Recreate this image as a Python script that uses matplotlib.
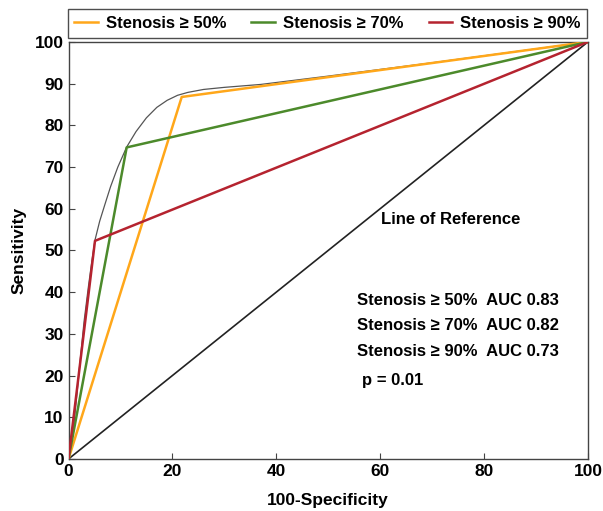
import matplotlib
matplotlib.use("Agg")
import matplotlib.pyplot as plt

plt.rcParams['font.family'] = ['Liberation Sans', 'DejaVu Sans']
plt.rcParams['font.weight'] = 'bold'

series_names = ["Stenosis \u2265 50%", "Stenosis \u2265 70%", "Stenosis \u2265 90%"]
series_colors = ["#FFA71A", "#4C8A2B", "#B5232F"]
x50 = [0, 21.8, 100]
y50 = [0, 86.8, 100]
x70 = [0, 11.2, 100]
y70 = [0, 74.7, 100]
x90 = [0, 5.1, 100]
y90 = [0, 52.3, 100]

curve_x = [0, 0.4, 0.9, 1.5, 2.2, 3.0, 3.8, 4.5, 5.1, 6.0, 7.0, 8.1, 9.5, 11.2, 13.0, 15.0, 17.0, 19.0, 21.0, 23.0, 26.0, 30.0, 37.0, 50.0, 70.0, 100]
curve_y = [0, 2.5, 6.5, 14, 23, 33, 41, 47.5, 52.5, 57, 61, 65.3, 70, 74.8, 78.5, 81.8, 84.3, 86.0, 87.2, 87.9, 88.6, 89.1, 89.8, 91.8, 95.0, 100]

ref_x = [0, 100]
ref_y = [0, 100]

auc_labels = ["Stenosis \u2265 50%  AUC 0.83", "Stenosis \u2265 70%  AUC 0.82", "Stenosis \u2265 90%  AUC 0.73"]

fig = plt.figure(figsize=(6.03, 5.11), dpi=100)
ax = fig.add_axes([0.1136, 0.1018, 0.975 - 0.1136, 0.918 - 0.1018])

ax.plot(curve_x, curve_y, color="#555555", lw=0.9, zorder=2)
ax.plot(ref_x, ref_y, color="#222222", lw=1.2, zorder=2)
for xs, ys, c, n in zip([x50, x70, x90], [y50, y70, y90], series_colors, series_names):
    ax.plot(xs, ys, color=c, lw=1.8, label=n, zorder=3)

ax.set_xlim(0, 100)
ax.set_ylim(0, 100)
ax.set_xticks(range(0, 101, 20))
ax.set_yticks(range(0, 101, 10))
ax.tick_params(direction="in", length=4, labelsize=12.5, width=0.8, color="#444444")
for lab in ax.get_xticklabels() + ax.get_yticklabels():
    lab.set_fontweight("bold")
for s in ax.spines.values():
    s.set_color("#444444")
    s.set_linewidth(1.0)

ax.set_xlabel("100-Specificity", fontsize=12.5, fontweight="bold", labelpad=10)
ax.set_ylabel("Sensitivity", fontsize=12.5, fontweight="bold", labelpad=6)

ax.text(73.6, 57.5, "Line of Reference", fontsize=12, fontweight="bold", ha="center", va="center")
for i, t in enumerate(auc_labels):
    ax.text(55.5, 38.1 - 6.2 * i, t, fontsize=12, fontweight="bold", ha="left", va="center")
ax.text(56.5, 18.7, "p = 0.01", fontsize=12, fontweight="bold", ha="left", va="center")

leg = fig.legend(loc="upper center", bbox_to_anchor=(0.543, 0.998), ncol=3, frameon=True,
                 fancybox=False, edgecolor="#222222", fontsize=12, handlelength=1.4,
                 columnspacing=1.5, handletextpad=0.5, borderpad=0.4)
leg.get_frame().set_linewidth(1.0)
for t in leg.get_texts():
    t.set_fontweight("bold")

fig.savefig("out.png", dpi=100)
